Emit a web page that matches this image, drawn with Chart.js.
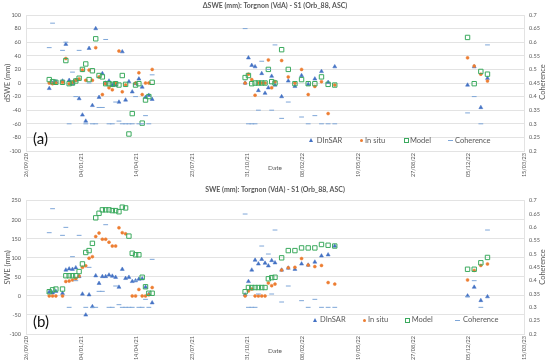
<!DOCTYPE html>
<html>
<head>
<meta charset="utf-8">
<script src="https://cdn.jsdelivr.net/npm/chart.js@4.4.0/dist/chart.umd.min.js"></script>
<style>
  body { margin: 0; background: #fff; }
  #page { position: relative; width: 550px; height: 363px; font-family: Lato, "Open Sans", sans-serif; color: #595959; }
  canvas { position: absolute; left: 0; }
  .tag { position: absolute; left: 33px; font-size: 15px; line-height: 1; color: #111; }
  .lg { position: absolute; font-size: 7.5px; line-height: 1; white-space: nowrap; }
  .mk { position: absolute; }
  .rtitle { position: absolute; left: 543px; font-size: 7.5px; line-height: 1; white-space: nowrap;
            transform: translate(-50%, -50%) rotate(-90deg); }
</style>
</head>
<body>
<div id="page">
  <canvas id="chartA" width="550" height="180" style="top:0"></canvas>
  <canvas id="chartB" width="550" height="183" style="top:180px"></canvas>
  <div class="tag" style="top:131px">(a)</div>
  <div class="tag" style="top:314px">(b)</div>
  <div class="rtitle" style="top:82px">Coherence</div>
  <div class="rtitle" style="top:267px">Coherence</div>
  <div id="legendA"></div>
  <div id="legendB"></div>
</div>
<script>
//--- Data ---//
const dates = [
  '2020-11-07','2020-11-13','2020-11-19','2020-11-25','2020-12-01','2020-12-07','2020-12-13','2020-12-19','2020-12-25','2020-12-31',
  '2021-01-06','2021-01-12','2021-01-18','2021-01-24','2021-01-30','2021-02-05','2021-02-11','2021-02-17','2021-02-23','2021-03-01',
  '2021-03-07','2021-03-13','2021-03-19','2021-03-25','2021-03-31','2021-04-06','2021-04-12','2021-04-18','2021-04-24','2021-04-30',
  '2021-05-06','2021-05-12',
  '2021-10-27','2021-11-02','2021-11-08','2021-11-14','2021-11-20','2021-11-26','2021-12-02','2021-12-08','2021-12-14','2021-12-20',
  '2022-01-01','2022-01-13','2022-01-25','2022-02-06','2022-02-18','2022-03-02','2022-03-14','2022-03-26','2022-04-07',
  '2022-12-03','2022-12-15','2022-12-27','2023-01-08'
];

// (a) dSWE, mm
const dsweDinsar = [
  -8, 0, 2, null, 3, 57, 4, -1, 4, -23, -47, -56, 51, -33, 80, -21, 14, 0, 3, -3, -3, -28, 46, -25, 2, -13, -1, 6, -6, -21, -18, -24,
  0, 37, 26, 24, -11, 14, -15, -7, 10, -3, -20, 3, -5, 11, -2, 6, 17, 1, 24,
  -3, 24, -36, 7
];
const dsweInsitu = [
  0, -1, 0, null, 1, 36, -1, 1, 4, 6, 19, 4, 19, 4, 52, 9, -17, -1, -7, -10, 0, 47, -13, -3, null, null, 0, 15, -17, 0, 0, 20,
  0, 13, 5, -18, 0, 0, 0, 34, -7, 2, 33, 9, 0, 20, -17, -5, 2, -45, -3,
  37, 25, 13, 3
];
const dsweModel = [
  5, 2, 1, null, 1, 33, -1, 0, 3, 7, 20, 28, 5, 18, 65, 11, 9, -1, -1, -2, -1, -3, 11, -2, -75, -45, -3, -1, -59, -25, -20, 1,
  8, 11, -1, 0, 0, 0, 0, 20, 2, 0, 49, 20, -1, 5, -1, -1, 9, -2, -3,
  67, -1, 17, 13
];

// (b) SWE, mm
const sweDinsar = [
  10, 8, 12, null, 7, 68, 71, 70, 74, 51, 5, -50, 3, -28, 53, 33, 51, 51, 55, 52, 49, 23, 70, 46, 49, 38, 40, 44, 45, 23, 4, -18,
  3, 38, 68, 94, 84, 96, 86, 79, 93, 87, 68, 73, 70, 84, 81, 89, 105, 108, 131,
  0, 23, -12, -2
];
const sweInsitu = [
  0, 0, 0, null, 0, 38, 39, 42, 45, 52, 75, 79, 99, 103, 156, 165, 149, 149, 141, 131, 131, 179, 166, 163, null, 0, 0, 17, 0, 0, 3, 22,
  0, 13, 18, 0, 0, 0, 0, 34, 27, 31, 68, 74, 75, 98, 81, 77, 80, 35, 31,
  42, 67, 80, 84
];
const sweModel = [
  11, 16, 18, null, 18, 53, 53, 53, 53, 64, 84, 114, 119, 138, 205, 217, 226, 226, 226, 224, 224, 221, 233, 231, 157, 112, 108, 108, 49, 24, 7, 7,
  11, 22, 22, 22, 22, 22, 22, 45, 48, 49, 100, 119, 119, 126, 126, 126, 135, 133, 131,
  70, 70, 87, 101
];

// same coherence in both panels
const coherence = [
  0.58, 0.67, null, null, 0.57, 0.60, 0.30, 0.49, 0.40, 0.57, null, 0.30, 0.45, 0.30, 0.30, 0.36, 0.36, 0.61, 0.30, 0.30, 0.38, 0.31, 0.30, 0.30, 0.30, 0.30, 0.40, 0.30, 0.30, 0.33, 0.30, 0.48,
  0.65, 0.30, 0.30, 0.30, 0.35, 0.53, null, 0.50, 0.35, 0.59, 0.32, 0.38, null, 0.325, 0.30, 0.33, 0.30, 0.30, 0.30,
  0.34, 0.40, 0.30, 0.59
];

const xTickDates = ['2020-09-26','2021-01-04','2021-04-14','2021-07-23','2021-10-31','2022-02-08','2022-05-19','2022-08-27','2022-12-05','2023-03-15'];
const xTickLabels = ['26/09/20','04/01/21','14/04/21','23/07/21','31/10/21','08/02/22','19/05/22','27/08/22','05/12/22','15/03/23'];
const seriesNames = ['DInSAR', 'In situ', 'Model', 'Coherence'];
//--------------//

const FONT = 'Lato, "Open Sans", sans-serif';
const TXT = '#595959';
const GRID = '#D9D9D9';
const COLORS = ['#4472C4', '#ED7D31', '#3BAA5E', '#7EA6D8'];

//--- Helpers ---//
function toDay(s) {
  const p = s.split('-');
  return Date.UTC(+p[0], +p[1] - 1, +p[2]) / 86400000;
}
function points(values) {
  const out = [];
  dates.forEach((d, i) => {
    if (values[i] !== null) out.push({ x: toDay(d), y: values[i] });
  });
  return out;
}
//--------------//

function buildChart(canvas, cfg) {
  return new Chart(canvas, {
    type: 'scatter',
    data: {
      datasets: [
        { label: seriesNames[0], data: points(cfg.dinsar), pointStyle: 'triangle', pointRadius: 2.3,
          backgroundColor: COLORS[0], borderColor: COLORS[0], borderWidth: 0.5, order: 3 },
        { label: seriesNames[1], data: points(cfg.insitu), pointStyle: 'circle', pointRadius: 1.5,
          backgroundColor: COLORS[1], borderColor: COLORS[1], borderWidth: 0.5, order: 2 },
        { label: seriesNames[2], data: points(cfg.model), pointStyle: 'rect', pointRadius: 3.1,
          backgroundColor: 'rgba(0,0,0,0)', borderColor: COLORS[2], borderWidth: 1, order: 1 },
        { label: seriesNames[3], data: points(coherence), yAxisID: 'y1', pointStyle: 'line', pointRadius: 2.4,
          borderColor: COLORS[3], backgroundColor: COLORS[3], borderWidth: 1, order: 0 }
      ]
    },
    options: {
      responsive: false,
      animation: false,
      events: [],
      layout: { padding: 0 },
      plugins: {
        legend: { display: false },
        tooltip: { enabled: false },
        title: {
          display: true, text: cfg.title, color: TXT,
          font: { family: FONT, size: 7, weight: 'bold', lineHeight: 1.2 },
          padding: cfg.titlePad
        }
      },
      scales: {
        x: {
          type: 'linear',
          min: toDay(xTickDates[0]),
          max: toDay(xTickDates[xTickDates.length - 1]),
          afterBuildTicks: s => { s.ticks = xTickDates.map(d => ({ value: toDay(d) })); },
          afterFit: s => { s.height = 29; },
          grid: { display: false, drawTicks: false },
          border: { display: false },
          ticks: {
            autoSkip: false, minRotation: 90, maxRotation: 90, padding: 2,
            color: TXT, font: { family: FONT, size: 5.5 },
            callback: (v, i) => xTickLabels[i]
          },
          title: { display: true, text: 'Date', color: TXT, font: { family: FONT, size: 6.5 }, padding: { top: 0, bottom: 8 } }
        },
        y: {
          position: 'left',
          min: cfg.yMin, max: cfg.yMax,
          afterFit: s => { s.width = 26; },
          grid: { color: GRID, lineWidth: 0.75, drawTicks: false },
          border: { display: true, color: GRID, width: 0.75 },
          ticks: { stepSize: cfg.yStep, padding: 5, color: TXT, font: { family: FONT, size: 5.5 } },
          title: { display: true, text: cfg.yTitle, color: TXT, font: { family: FONT, size: 7.5 }, padding: { top: 3.5, bottom: 0 } }
        },
        y1: {
          position: 'right',
          min: 0.2, max: 0.7,
          afterFit: s => { s.width = 26; },
          grid: { display: false, drawTicks: false },
          border: { display: true, color: GRID, width: 0.75 },
          ticks: { stepSize: 0.05, padding: 5, color: TXT, font: { family: FONT, size: 5.5 },
                   callback: v => String(+v.toFixed(2)) },
          // title written as html (reads bottom to top like the left one)
          title: { display: false }
        }
      }
    }
  });
}

// HTML legend drawn inside each plot
function buildLegend(el, top, marks, texts) {
  const shapes = [
    'width:0;height:0;border-left:2.6px solid transparent;border-right:2.6px solid transparent;border-bottom:4.2px solid ' + COLORS[0] + ';margin:-2.4px 0 0 -2.6px',
    'width:3px;height:3px;border-radius:50%;background:' + COLORS[1] + ';margin:-1.5px 0 0 -1.5px',
    'width:3px;height:3px;border:1px solid ' + COLORS[2] + ';margin:-2.5px 0 0 -2.5px',
    'width:5px;height:1px;background:' + COLORS[3] + ';margin:-0.5px 0 0 -2.5px'
  ];
  let html = '';
  seriesNames.forEach((name, i) => {
    html += `<div class="mk" style="left:${marks[i]}px;top:${top}px;${shapes[i]}"></div>`;
    html += `<div class="lg" style="left:${texts[i]}px;top:${top - 3.8}px">${name}</div>`;
  });
  el.innerHTML = html;
}

document.addEventListener('DOMContentLoaded', () => {
  buildChart(document.getElementById('chartA'), {
    title: '\u0394SWE (mm): Torgnon (VdA) - S1 (Orb_88, ASC)',
    titlePad: { top: 2, bottom: 4.6 },
    yTitle: 'dSWE (mm)', yMin: -100, yMax: 100, yStep: 20,
    dinsar: dsweDinsar, insitu: dsweInsitu, model: dsweModel
  });
  buildChart(document.getElementById('chartB'), {
    title: 'SWE (mm): Torgnon (VdA) - S1 (Orb_88, ASC)',
    titlePad: { top: 6, bottom: 6.3 },
    yTitle: 'SWE (mm)', yMin: -100, yMax: 250, yStep: 50,
    dinsar: sweDinsar, insitu: sweInsitu, model: sweModel
  });
  buildLegend(document.getElementById('legendA'), 140.3, [311.7, 361, 406, 450.7], [316.7, 365, 410, 455]);
  buildLegend(document.getElementById('legendB'), 320, [315.7, 364.3, 407.3, 457.7], [320, 368, 411.7, 463]);
});
</script>
</body>
</html>
